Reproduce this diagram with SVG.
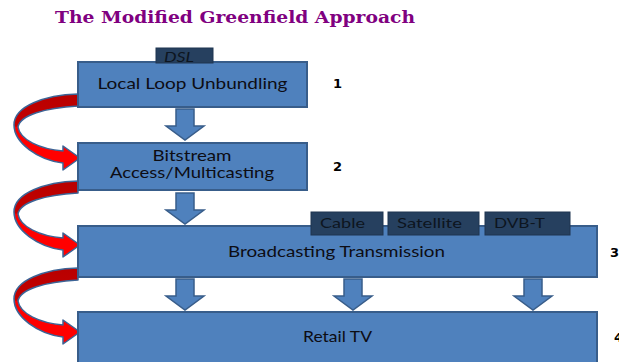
<svg xmlns="http://www.w3.org/2000/svg" xmlns:xlink="http://www.w3.org/1999/xlink" width="619" height="362" viewBox="0 0 619 362">
  <style>
    .box { fill: #4f81bd; stroke: #385d8a; stroke-width: 2; }
    .tab { fill: #26405f; stroke: #1f3550; stroke-width: 1; }
    .label { font-family: Lato, "Liberation Sans", sans-serif; font-size: 15px; fill: #0d0d14; }
    .tablabel { font-family: Lato, "Liberation Sans", sans-serif; font-size: 14px; fill: #0d1520; }
    .num { font-family: "DejaVu Sans", sans-serif; font-weight: bold; font-size: 13px; fill: #000; }
    .title { font-family: "DejaVu Serif", "Liberation Serif", serif; font-weight: bold; font-size: 17px; fill: #800080; }
    .down { fill: #4f81bd; stroke: #385d8a; stroke-width: 1.5; }
    .curve { fill: url(#redShade); stroke: #3c6496; stroke-width: 1.5; stroke-linejoin: round; }
  </style>
  <defs>
    <!-- dark upper turn, bright lower run -->
    <linearGradient id="redShade" x1="0" y1="0" x2="0" y2="1">
      <stop offset="0" stop-color="#b80000"/>
      <stop offset="0.42" stop-color="#c40000"/>
      <stop offset="0.44" stop-color="#ff0000"/>
      <stop offset="1" stop-color="#ff0000"/>
    </linearGradient>
    <!-- curved arrow looping around the left side -->
    <path id="loop" class="curve" d="M78,94 C45,95 14,106 14,125 C14,143 38,160 63,163 L63,170 L80,158 L63,146 L63,151 C40,149 20,140 18,127 C20,115 45,108 78,106 Z"/>
    <!-- downward block arrow, centred on x=0, top at y=0 -->
    <path id="down" class="down" d="M-9,0 L9,0 L9,17 L19,17 L0,31 L-19,17 L-9,17 Z"/>
  </defs>

  <text class="title" x="55" y="23" textLength="360" lengthAdjust="spacingAndGlyphs">The Modified Greenfield Approach</text>

  <g id="connectors">
    <use xlink:href="#loop"/>
    <use xlink:href="#loop" transform="translate(0,87)"/>
    <use xlink:href="#loop" transform="translate(0,174)"/>
    <use xlink:href="#down" transform="translate(185,109)"/>
    <use xlink:href="#down" transform="translate(185,193)"/>
    <use xlink:href="#down" transform="translate(185,279)"/>
    <use xlink:href="#down" transform="translate(353,279)"/>
    <use xlink:href="#down" transform="translate(533,279)"/>
  </g>

  <g id="local-loop">
    <rect class="box" x="78" y="62" width="229" height="45"/>
    <rect class="tab" x="156" y="48" width="57" height="15"/>
    <text class="tablabel" x="179" y="62" text-anchor="middle" font-style="italic" textLength="30" lengthAdjust="spacingAndGlyphs">DSL</text>
    <text class="label" x="192.5" y="89" text-anchor="middle" textLength="190" lengthAdjust="spacingAndGlyphs">Local Loop Unbundling</text>
    <text class="num" x="333" y="88">1</text>
  </g>

  <g id="bitstream">
    <rect class="box" x="78" y="143" width="229" height="47"/>
    <text class="label" x="192" y="161" text-anchor="middle" textLength="79" lengthAdjust="spacingAndGlyphs">Bitstream</text>
    <text class="label" x="192" y="178" text-anchor="middle" textLength="164" lengthAdjust="spacingAndGlyphs">Access/Multicasting</text>
    <text class="num" x="333" y="171">2</text>
  </g>

  <g id="broadcasting">
    <rect class="box" x="78" y="226" width="519" height="51"/>
    <rect class="tab" x="311" y="212" width="72" height="23"/>
    <rect class="tab" x="388" y="212" width="91" height="23"/>
    <rect class="tab" x="485" y="212" width="85" height="23"/>
    <text class="tablabel" x="320" y="228" textLength="45" lengthAdjust="spacingAndGlyphs">Cable</text>
    <text class="tablabel" x="397" y="228" textLength="65" lengthAdjust="spacingAndGlyphs">Satellite</text>
    <text class="tablabel" x="494" y="228" textLength="51" lengthAdjust="spacingAndGlyphs">DVB-T</text>
    <text class="label" x="336.5" y="257" text-anchor="middle" textLength="217" lengthAdjust="spacingAndGlyphs">Broadcasting Transmission</text>
    <text class="num" x="610" y="257">3</text>
  </g>

  <g id="retail-tv">
    <rect class="box" x="78" y="312" width="519" height="52"/>
    <text class="label" x="337.5" y="342" text-anchor="middle" textLength="69" lengthAdjust="spacingAndGlyphs">Retail TV</text>
    <text class="num" x="614" y="342">4</text>
  </g>
</svg>
